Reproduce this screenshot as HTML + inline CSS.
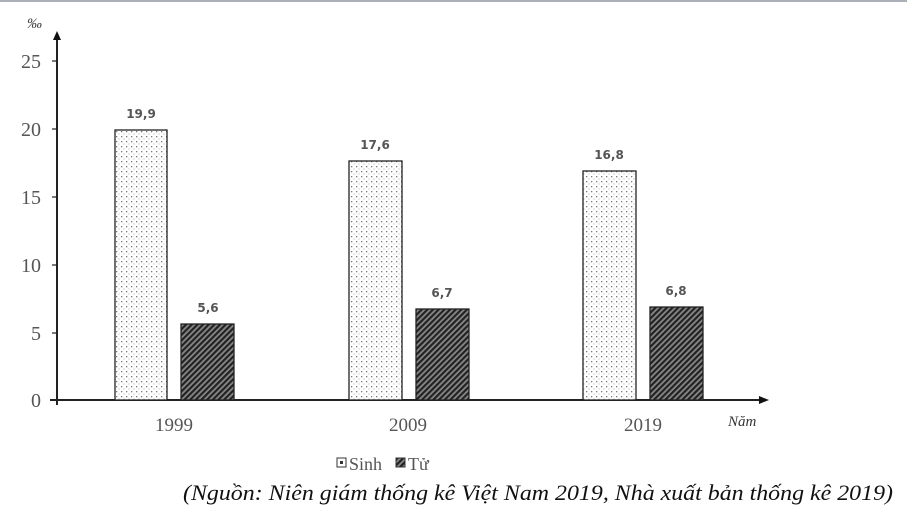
<!DOCTYPE html>
<html><head><meta charset="utf-8"><style>
html,body{margin:0;padding:0;background:#fff;width:907px;height:517px;overflow:hidden}
</style></head><body>
<svg width="907" height="517" xmlns="http://www.w3.org/2000/svg">
<defs>
<pattern id="dots" width="5" height="5" patternUnits="userSpaceOnUse">
<rect width="5" height="5" fill="#fff"/><rect x="1" y="1" width="1.3" height="1.3" fill="#777"/><rect x="3.5" y="3.5" width="1" height="1" fill="#aaa"/>
</pattern>
<pattern id="hatch" width="4" height="4" patternUnits="userSpaceOnUse" patternTransform="rotate(45)">
<rect width="4" height="4" fill="#888"/><rect width="2.2" height="4" fill="#222"/>
</pattern>
</defs>
<rect x="0" y="0" width="907" height="2" fill="#aab0b8"/>
<g font-family="Liberation Serif, serif" font-size="20" fill="#555" text-anchor="end">
<text x="41" y="68">25</text><text x="41" y="136">20</text><text x="41" y="204">15</text>
<text x="41" y="272">10</text><text x="41" y="340">5</text><text x="41" y="407">0</text>
</g>
<text x="27" y="28" font-family="Liberation Serif, serif" font-style="italic" font-size="15" fill="#444">‰</text>
<g stroke="#333" stroke-width="1.3">
<line x1="52" y1="61" x2="57" y2="61"/><line x1="52" y1="129" x2="57" y2="129"/><line x1="52" y1="197" x2="57" y2="197"/>
<line x1="52" y1="265" x2="57" y2="265"/><line x1="52" y1="333" x2="57" y2="333"/>
</g>
<line x1="57" y1="405" x2="57" y2="38" stroke="#222" stroke-width="2"/>
<polygon points="57,31 53,40 61,40" fill="#111"/>
<line x1="50" y1="400" x2="760" y2="400" stroke="#222" stroke-width="2"/>
<polygon points="769,400 759,396 759,404" fill="#111"/>
<g stroke="#222" stroke-width="1.3">
<rect x="115" y="130" width="52" height="270" fill="url(#dots)"/>
<rect x="181" y="324" width="53" height="76" fill="url(#hatch)"/>
<rect x="349" y="161" width="53" height="239" fill="url(#dots)"/>
<rect x="416" y="309" width="53" height="91" fill="url(#hatch)"/>
<rect x="583" y="171" width="53" height="229" fill="url(#dots)"/>
<rect x="650" y="307" width="53" height="93" fill="url(#hatch)"/>
</g>
<g font-family="DejaVu Sans, sans-serif" font-size="12" font-weight="bold" fill="#555" text-anchor="middle">
<text x="141" y="118">19,9</text><text x="208" y="312">5,6</text>
<text x="375" y="149">17,6</text><text x="442" y="297">6,7</text>
<text x="609" y="159">16,8</text><text x="676" y="295">6,8</text>
</g>
<g font-family="Liberation Serif, serif" font-size="19" fill="#555" text-anchor="middle">
<text x="174" y="431">1999</text><text x="408" y="431">2009</text><text x="643" y="431">2019</text>
</g>
<text x="728" y="426" font-family="Liberation Serif, serif" font-style="italic" font-size="15" fill="#333">Năm</text>
<rect x="337" y="458" width="9" height="9" fill="#fff" stroke="#333"/>
<rect x="340" y="461" width="3" height="3" fill="#333"/>
<text x="349" y="470" font-family="Liberation Serif, serif" font-size="18" fill="#555">Sinh</text>
<rect x="396" y="458" width="9" height="9" fill="url(#hatch)" stroke="#333"/>
<text x="408" y="470" font-family="Liberation Serif, serif" font-size="18" fill="#555">Tử</text>
<text x="183" y="500" textLength="710" lengthAdjust="spacingAndGlyphs" font-family="Liberation Serif, serif" font-style="italic" font-size="22" fill="#111">(Nguồn: Niên giám thống kê Việt Nam 2019, Nhà xuất bản thống kê 2019)</text>
</svg>
</body></html>
